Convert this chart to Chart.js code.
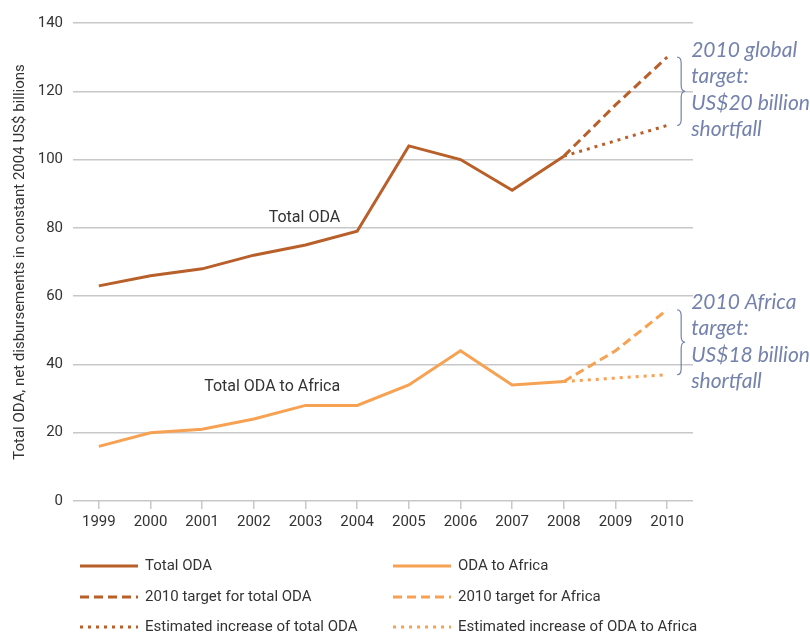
<!DOCTYPE html>
<html>
<head>
<meta charset="utf-8">
<script src="https://cdn.jsdelivr.net/npm/chart.js@4"></script>
<style>
  body { margin: 0; background: #fff; }
  #wrap { width: 810px; height: 634px; position: relative; }
</style>
</head>
<body>
<div id="wrap"><canvas id="myChart"></canvas></div>
<script>
const years = ['1999','2000','2001','2002','2003','2004','2005','2006','2007','2008','2009','2010'];

const totalOda      = [63, 66, 68, 72, 75, 79, 104, 100, 91, 101, null, null];
const totalTarget   = [null, null, null, null, null, null, null, null, null, 101, 116, 130];
const totalEstimate = [null, null, null, null, null, null, null, null, null, 101, 105.5, 110];

const africaOda      = [16, 20, 21, 24, 28, 28, 34, 44, 34, 35, null, null];
const africaTarget   = [null, null, null, null, null, null, null, null, null, 35, 44, 56];
const africaEstimate = [null, null, null, null, null, null, null, null, null, 35, 36, 37];

const brown = '#b85f2a';
const orange = '#f7a152';
const noteColor = '#7482ad';
const FONT = '"Liberation Sans Narrow", "Roboto", sans-serif';

const DASH = [9, 5];
const DOT = [3, 5];

function ds(label, data, color, dash) {
  return {
    label: label, data: data, borderColor: color, backgroundColor: color,
    borderWidth: 3, borderDash: dash, pointRadius: 0, fill: false,
    tension: 0, spanGaps: false
  };
}

// legend drawn in 2 columns x 3 rows, like the original
const legendPlugin = {
  id: 'twoColLegend',
  afterDraw(chart) {
    const ctx = chart.ctx;
    const sets = chart.data.datasets;
    const cols = [80, 393];
    const rows = [566, 597, 627];
    const order = [[0, 3], [1, 4], [2, 5]];
    ctx.save();
    ctx.font = '15px ' + FONT;
    ctx.fillStyle = '#333';
    ctx.textBaseline = 'middle';
    order.forEach((pair, r) => {
      pair.forEach((i, c) => {
        const d = sets[i];
        ctx.beginPath();
        ctx.setLineDash(d.borderDash || []);
        ctx.lineWidth = 3;
        ctx.strokeStyle = d.borderColor;
        ctx.moveTo(cols[c], rows[r]);
        ctx.lineTo(cols[c] + 58, rows[r]);
        ctx.stroke();
        ctx.setLineDash([]);
        ctx.fillText(d.label, cols[c] + 65, rows[r]);
      });
    });
    ctx.restore();
  }
};

function brace(ctx, x, top, bottom) {
  const mid = (top + bottom) / 2;
  const w = 8;
  ctx.beginPath();
  ctx.moveTo(x, top);
  ctx.quadraticCurveTo(x + w / 2, top, x + w / 2, top + 6);
  ctx.lineTo(x + w / 2, mid - 6);
  ctx.quadraticCurveTo(x + w / 2, mid, x + w, mid);
  ctx.quadraticCurveTo(x + w / 2, mid, x + w / 2, mid + 6);
  ctx.lineTo(x + w / 2, bottom - 6);
  ctx.quadraticCurveTo(x + w / 2, bottom, x, bottom);
  ctx.stroke();
}

const notesPlugin = {
  id: 'notes',
  afterDraw(chart) {
    const ctx = chart.ctx;
    const xs = chart.scales.x, ys = chart.scales.y;
    ctx.save();
    // line labels
    ctx.font = '16px ' + FONT;
    ctx.fillStyle = '#333';
    ctx.textAlign = 'right';
    ctx.textBaseline = 'middle';
    ctx.fillText('Total ODA', xs.getPixelForValue(5) - 17, ys.getPixelForValue(83));
    ctx.fillText('Total ODA to Africa', xs.getPixelForValue(5) - 17, ys.getPixelForValue(33.5));

    // shortfall notes
    const bx = xs.getPixelForValue(11) + 10;
    ctx.strokeStyle = noteColor;
    ctx.lineWidth = 1.2;
    brace(ctx, bx, ys.getPixelForValue(130), ys.getPixelForValue(110));
    brace(ctx, bx, ys.getPixelForValue(56), ys.getPixelForValue(37));

    ctx.font = 'italic 21px Lato, "Open Sans", sans-serif';
    ctx.fillStyle = noteColor;
    ctx.textAlign = 'left';
    const tx = bx + 14;
    const g = ['2010 global', 'target:', 'US$20 billion', 'shortfall'];
    const a = ['2010 Africa', 'target:', 'US$18 billion', 'shortfall'];
    g.forEach((t, i) => ctx.fillText(t, tx, 50 + i * 26.5));
    a.forEach((t, i) => ctx.fillText(t, tx, 302 + i * 26.5));
    ctx.restore();
  }
};

const ctx = document.getElementById('myChart');

new Chart(ctx, {
  type: 'line',
  data: {
    labels: years,
    datasets: [
      ds('Total ODA', totalOda, brown, []),
      ds('2010 target for total ODA', totalTarget, brown, DASH),
      ds('Estimated increase of total ODA', totalEstimate, brown, DOT),
      ds('ODA to Africa', africaOda, orange, []),
      ds('2010 target for Africa', africaTarget, orange, DASH),
      ds('Estimated increase of ODA to Africa', africaEstimate, orange, DOT)
    ]
  },
  options: {
    responsive: true,
    maintainAspectRatio: false,
    animation: false,
    layout: { padding: { top: 23, right: 117, bottom: 99, left: 11 } },
    plugins: {
      legend: { display: false },
      tooltip: { enabled: false }
    },
    scales: {
      x: {
        offset: true,
        grid: { display: true, drawOnChartArea: false, offset: false, tickLength: 8, color: '#c8c8c8', lineWidth: 1.5 },
        border: { display: false },
        ticks: { color: '#333', font: { family: FONT, size: 15 }, padding: 4, maxRotation: 0 }
      },
      y: {
        min: 0, max: 140,
        afterFit(scale) { scale.width = 62; },
        ticks: { stepSize: 20, color: '#333', font: { family: FONT, size: 15 }, padding: 10 },
        grid: { color: '#c8c8c8', lineWidth: 1.5, drawTicks: false },
        border: { display: false },
        title: {
          display: true,
          text: 'Total ODA, net disbursements in constant 2004 US$ billions',
          color: '#333', font: { family: FONT, size: 15 }, padding: { top: 0, bottom: 8 }
        }
      }
    }
  },
  plugins: [legendPlugin, notesPlugin]
});
</script>
</body>
</html>
